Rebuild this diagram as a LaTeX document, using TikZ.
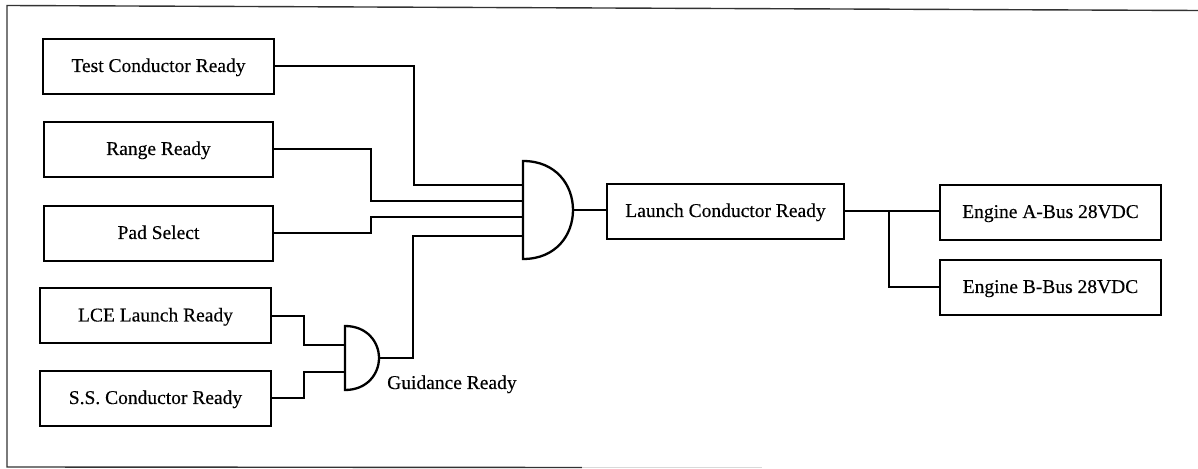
\documentclass[tikz,border=0pt]{standalone}
\usepackage{fontspec}
\setmainfont[FakeBold=0.3]{Liberation Serif}
\begin{document}
\begin{tikzpicture}[x=1bp,y=-1bp,
  blockbox/.style={draw=black,line width=2bp,minimum width=#1,minimum height=55bp,inner sep=0pt,text height=11bp,text depth=0pt,font=\fontsize{19.5bp}{21bp}\selectfont},
  blockbox/.default=230bp,
  wire/.style={draw=black,line width=2bp},
  gate/.style={draw=black,line width=2.3bp},
  lbl/.style={inner sep=0pt,font=\fontsize{19.5bp}{21bp}\selectfont},
  framedark/.style={draw=black!80,line width=1.4bp},
  framepale/.style={draw=black!15,line width=1.4bp}]
\useasboundingbox (0,0) rectangle (1198,469);
\coordinate (ftl) at (7,5.5);
\coordinate (ftr) at (1198,10.5);
\coordinate (fbl) at (7,467);
\coordinate (fbm) at (582,467.5);
\coordinate (fbr) at (762,467.5);
\draw[framedark] (ftr) -- (ftl) -- (fbl) -- (fbm);
\draw[framepale] (fbm) -- (fbr);
\node[blockbox=231bp] (test) at (158.5,66.5) {Test Conductor Ready};
\node[blockbox=229bp] (range) at (158.5,149.5) {Range Ready};
\node[blockbox=229bp] (pad) at (158.5,233.5) {Pad Select};
\node[blockbox=231bp] (lce) at (155.5,316) {LCE Launch Ready};
\node[blockbox=231bp] (ss) at (155.5,398.5) {S.S. Conductor Ready};
\node[blockbox=237bp] (launch) at (725.5,211.5) {Launch Conductor Ready};
\node[blockbox=221bp] (enga) at (1050.5,212.5) {Engine A-Bus 28VDC};
\node[blockbox=221bp] (engb) at (1050.5,287.5) {Engine B-Bus 28VDC};
\coordinate (bigtl) at (523,161);
\coordinate (bigbl) at (523,259);
\coordinate (bigout) at (573,210);
\coordinate (smalltl) at (345,326);
\coordinate (smallbl) at (345,390);
\coordinate (smallout) at (379,358);
\coordinate (branch) at (889,211.5);
\draw[gate] (bigtl) .. controls (556,161) and (573,185) .. (bigout) .. controls (573,235) and (556,259) .. (bigbl) -- cycle;
\draw[gate] (smalltl) .. controls (367,326) and (379,342) .. (smallout) .. controls (379,374) and (367,390) .. (smallbl) -- cycle;
\node[lbl,anchor=base west] (guid) at (387,389) {Guidance Ready};
\draw[wire] (test.east) -- (414,66.5) |- (523,185);
\draw[wire] (range.east) -- (371,149.5) |- (523,201.5);
\draw[wire] (pad.east) -- (371,233.5) |- (523,217.5);
\draw[wire] (smallout) -- (413,358) |- (523,236);
\draw[wire] (lce.east) -- (304,316) |- (345,345);
\draw[wire] (ss.east) -- (304,398.5) |- (345,372);
\draw[wire] (bigout) -- (bigout -| launch.west);
\draw[wire] (launch.east) -- (launch.east -| enga.west);
\draw[wire] (branch) |- (engb.west);
\end{tikzpicture}
\end{document}
